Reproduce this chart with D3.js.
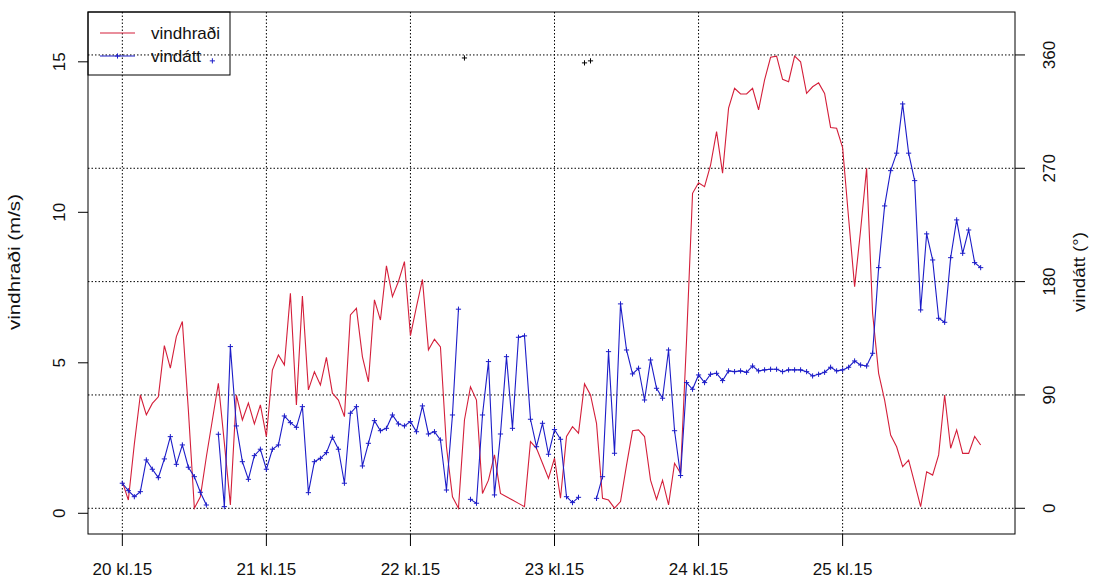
<!DOCTYPE html>
<html><head><meta charset="utf-8">
<script src="https://cdn.jsdelivr.net/npm/d3@7"></script>
<style>body{margin:0;background:#fff}svg{display:block}text{font-family:Arial,"Liberation Sans",sans-serif}</style>
</head><body><svg id="c" width="1094" height="581"></svg>
<script>
// ---- data (hourly, hour 0 = day 20 kl.15) ----
const xTickHours = [0, 24, 48, 72, 96, 120];
const xTickLabels = ["20 kl.15", "21 kl.15", "22 kl.15", "23 kl.15", "24 kl.15", "25 kl.15"];
const leftTicks = [0, 5, 10, 15];
const rightTicks = [0, 90, 180, 270, 360];
const seriesNames = ["vindhraði", "vindátt"];

const vindhradi = [
 1.05,0.44,2.3,3.93,3.27,3.65,3.87,5.57,4.82,5.87,
 6.37,3.43,0.17,0.55,1.88,3.1,4.32,2.33,0.28,3.93,
 3.1,3.66,2.97,3.6,2.55,4.76,5.26,4.93,7.31,3.6,
 7.22,4.1,4.7,4.26,5.18,3.99,3.76,3.21,6.59,6.81,
 5.2,4.37,7.09,6.42,8.22,7.2,7.7,8.36,5.9,6.86,
 7.77,5.43,5.78,5.53,2.21,0.55,0.17,3.1,4.2,3.76,
 0.66,1.1,1.94,0.66,0.55,0.44,0.33,0.22,2.38,2.16,
 1.66,1.16,1.83,0.5,2.55,2.88,2.66,4.3,3.93,2.99,
 0.5,0.44,0.17,0.39,1.6,2.74,2.77,2.55,1.1,0.46,
 1.1,0.28,1.66,1.33,5.76,10.63,10.98,10.85,11.57,12.68,
 11.3,13.46,14.12,13.93,13.93,14.12,13.4,14.4,15.15,15.19,
 14.42,14.34,15.19,15.0,13.95,14.17,14.3,13.95,12.82,12.79,
 12.15,9.8,7.53,9.41,11.46,6.64,4.65,3.76,2.6,2.21,
 1.55,1.77,1.0,0.22,1.38,1.27,1.94,3.93,2.16,2.77,
 1.99,1.99,2.55,2.27
];
const vindatt = [
 19.9,14.0,9.2,13.2,38.4,31.0,24.3,39.2,56.9,34.9,
 50.3,32.6,25.1,12.7,2.6,null,58.8,1.3,128.4,65.4,
 37.0,23.0,41.8,46.9,31.0,46.9,50.3,73.3,68.0,64.3,
 80.7,12.4,37.0,39.7,44.2,56.4,46.9,19.9,75.5,80.7,
 33.6,51.6,69.6,61.6,63.5,74.1,67.0,65.4,68.8,60.8,
 81.3,59.0,60.8,54.2,14.5,74.1,158.1,null,7.1,4.0,
 74.1,116.5,10.6,59.0,120.4,63.5,135.8,136.9,70.7,48.9,
 67.5,42.9,62.5,54.8,9.2,4.5,8.7,null,null,7.9,
 25.1,124.4,43.7,162.3,125.7,106.7,111.2,86.0,117.8,95.3,
 87.4,125.7,61.6,26.0,99.8,94.5,105.9,99.8,106.4,107.2,
 101.4,109.1,108.5,109.1,108.0,113.0,109.1,109.9,110.4,110.4,
 108.5,109.9,109.9,109.9,108.5,105.1,106.4,108.0,112.0,109.1,
 109.9,112.0,117.0,113.8,113.0,123.1,191.1,240.1,268.1,282.0,
 321.1,282.0,260.2,157.5,217.9,197.2,150.9,147.7,199.0,229.0,
 202.5,221.0,195.1,191.1
];
// isolated northerly readings (near 360°)
const nordBlarHours = [15];
const nordBlarDeg = [355.3];
const nordSvartHours = [57, 77, 78];
const nordSvartDeg = [357.6, 353.7, 355.3];

// ---- layout ----
const L = 88, R = 1015, T = 12, B = 534;
const RED = "#d41f3a", BLUE = "#1c1cc8", TXT = "#111";
const svg = d3.select("#c");

const x = d3.scaleLinear().domain([-5.72, 148.72]).range([L, R]);
const yL = d3.scaleLinear().domain([-0.688, 16.655]).range([B, T]);
const yR = d3.scaleLinear().domain([-20.42, 394.1]).range([B, T]);

const grid = svg.append("g").attr("stroke", "#000").attr("stroke-width", 1)
  .attr("stroke-dasharray", "1.5,2").attr("fill", "none");
xTickHours.forEach(h => grid.append("line").attr("x1", x(h)).attr("x2", x(h)).attr("y1", T).attr("y2", B));
rightTicks.forEach(d => grid.append("line").attr("x1", L).attr("x2", R).attr("y1", yR(d)).attr("y2", yR(d)));

// red line
const idx = d3.range(vindhradi.length);
svg.append("path").datum(idx)
  .attr("fill", "none").attr("stroke", RED).attr("stroke-width", 1.1)
  .attr("d", d3.line().x(i => x(i)).y(i => yL(vindhradi[i])));

// blue line with gaps
svg.append("path").datum(idx)
  .attr("fill", "none").attr("stroke", BLUE).attr("stroke-width", 1.1)
  .attr("d", d3.line().defined(i => vindatt[i] != null).x(i => x(i)).y(i => yR(vindatt[i])));

const plus = "M-2.6,0H2.6M0,-2.6V2.6";
svg.append("g").selectAll("path").data(idx.filter(i => vindatt[i] != null)).join("path")
  .attr("d", plus).attr("stroke", BLUE).attr("stroke-width", 1)
  .attr("transform", i => `translate(${x(i)},${yR(vindatt[i])})`);
svg.append("g").selectAll("path").data(d3.range(nordBlarHours.length)).join("path")
  .attr("d", plus).attr("stroke", BLUE).attr("stroke-width", 1)
  .attr("transform", k => `translate(${x(nordBlarHours[k])},${yR(nordBlarDeg[k])})`);
svg.append("g").selectAll("path").data(d3.range(nordSvartHours.length)).join("path")
  .attr("d", plus).attr("stroke", "#000").attr("stroke-width", 1)
  .attr("transform", k => `translate(${x(nordSvartHours[k])},${yR(nordSvartDeg[k])})`);

// box
svg.append("rect").attr("x", L).attr("y", T).attr("width", R - L).attr("height", B - T)
  .attr("fill", "none").attr("stroke", "#000").attr("stroke-width", 1);

const fs = 17;
// bottom axis
const ax = svg.append("g");
xTickHours.forEach((h, k) => {
  ax.append("line").attr("x1", x(h)).attr("x2", x(h)).attr("y1", B).attr("y2", B + 12).attr("stroke", "#000");
  ax.append("text").attr("x", x(h)).attr("y", 575).attr("text-anchor", "middle")
    .attr("font-size", fs).attr("fill", TXT).text(xTickLabels[k]);
});
// left axis
leftTicks.forEach(v => {
  ax.append("line").attr("x1", L - 10).attr("x2", L).attr("y1", yL(v)).attr("y2", yL(v)).attr("stroke", "#000");
  ax.append("text").attr("transform", `translate(65,${yL(v)}) rotate(-90)`).attr("text-anchor", "middle")
    .attr("font-size", fs).attr("fill", TXT).text(v);
});
// right axis
rightTicks.forEach(v => {
  ax.append("line").attr("x1", R).attr("x2", R + 10).attr("y1", yR(v)).attr("y2", yR(v)).attr("stroke", "#000");
  ax.append("text").attr("transform", `translate(1055,${yR(v)}) rotate(-90)`).attr("text-anchor", "middle")
    .attr("font-size", fs).attr("fill", TXT).text(v);
});
ax.append("text").attr("transform", "translate(20,262) rotate(-90)").attr("text-anchor", "middle")
  .attr("font-size", fs).attr("fill", TXT).attr("textLength", 136).attr("lengthAdjust", "spacingAndGlyphs")
  .text("vindhraði (m/s)");
ax.append("text").attr("transform", "translate(1085,272) rotate(-90)").attr("text-anchor", "middle")
  .attr("font-size", fs).attr("fill", TXT).attr("textLength", 80).attr("lengthAdjust", "spacingAndGlyphs")
  .text("vindátt (°)");

// legend
const lg = svg.append("g");
lg.append("rect").attr("x", L).attr("y", T).attr("width", 142).attr("height", 63)
  .attr("fill", "none").attr("stroke", "#000");
lg.append("line").attr("x1", 100).attr("x2", 135).attr("y1", 33).attr("y2", 33).attr("stroke", RED).attr("stroke-width", 1.1);
lg.append("line").attr("x1", 100).attr("x2", 135).attr("y1", 56).attr("y2", 56).attr("stroke", BLUE).attr("stroke-width", 1.1);
lg.append("path").attr("d", plus).attr("stroke", BLUE).attr("transform", "translate(117.5,56)");
lg.append("text").attr("x", 151).attr("y", 39).attr("font-size", fs).attr("fill", TXT).text(seriesNames[0]);
lg.append("text").attr("x", 151).attr("y", 62).attr("font-size", fs).attr("fill", TXT).text(seriesNames[1]);
</script></body></html>
